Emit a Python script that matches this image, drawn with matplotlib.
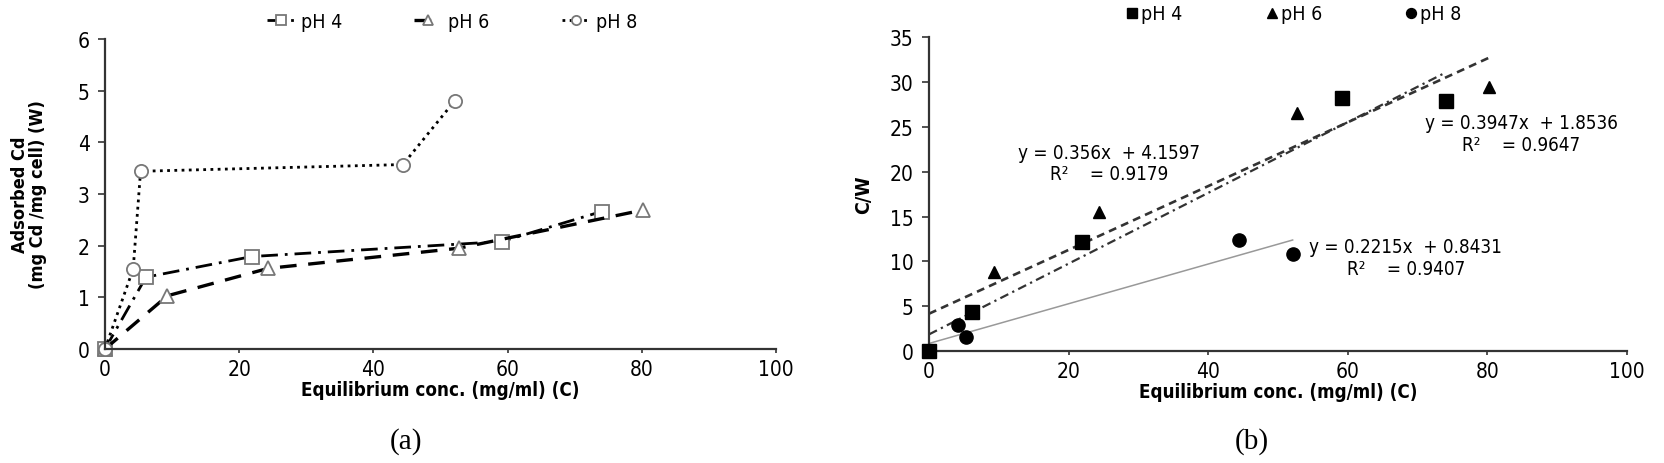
import numpy as np
import matplotlib
matplotlib.use("Agg")
import matplotlib.pyplot as plt

plt.rcParams['font.family'] = ['DejaVu Sans']
plt.rcParams['font.stretch'] = 'condensed'
plt.rcParams['mathtext.default'] = 'regular'

# ---------------- data ----------------
series_names = ["pH 4", "pH 6", "pH 8"]

# (a) adsorption isotherm: equilibrium conc. (C) vs adsorbed Cd (W)
ph4_C = [0, 6.1, 21.9, 59.1, 74.0]
ph4_W = [0, 1.39, 1.79, 2.08, 2.66]
ph6_C = [0, 9.3, 24.3, 52.7, 80.2]
ph6_W = [0, 1.03, 1.56, 1.95, 2.69]
ph8_C = [0, 4.2, 5.3, 44.4, 52.1]
ph8_W = [0, 1.55, 3.44, 3.57, 4.80]

# (b) Langmuir linearisation: C vs C/W
ph4_CW = [0, 4.3, 12.2, 28.2, 27.9]
ph6_CW = [0, 8.8, 15.5, 26.5, 29.4]
ph8_CW = [0, 2.9, 1.6, 12.4, 10.8]

# trend-line coefficients (slope, intercept, R2, x-range end)
fit_slope = [0.3947, 0.356, 0.2215]
fit_intercept = [1.8536, 4.1597, 0.8431]
fit_r2 = [0.9647, 0.9179, 0.9407]
fit_xmax = [74.0, 80.2, 52.1]

xticks = [0, 20, 40, 60, 80, 100]
yticks_a = [0, 1, 2, 3, 4, 5, 6]
yticks_b = [0, 5, 10, 15, 20, 25, 30, 35]

# ---------------- figure ----------------
W, H = 1665, 464
fig = plt.figure(figsize=(W / 100, H / 100), dpi=100)
fig.patch.set_facecolor('white')

def px_axes(x0, x1, y_top, y_bot):
    return fig.add_axes([x0 / W, 1 - y_bot / H, (x1 - x0) / W, (y_bot - y_top) / H])

axa = px_axes(105, 776, 40, 350)
axb = px_axes(929, 1627, 38.3, 352)

spine_col = '#333333'
for ax in (axa, axb):
    for s in ('top', 'right'):
        ax.spines[s].set_visible(False)
    for s in ('left', 'bottom'):
        ax.spines[s].set_color(spine_col)
        ax.spines[s].set_linewidth(1.6)
    ax.tick_params(axis='y', direction='out', length=5, width=1.2, color=spine_col,
                   labelsize=15, pad=6)
    ax.tick_params(axis='x', direction='out', length=3, width=1.2, color=spine_col,
                   labelsize=15, pad=4)
    ax.set_xlim(0, 100)
    ax.set_xticks(xticks)
    ax.set_xlabel("Equilibrium conc. (mg/ml) (C)", fontsize=13.5, fontweight='bold', labelpad=1)

# ---------- (a) ----------
axa.set_ylim(0, 6)
axa.set_yticks(yticks_a)
mk_kw = dict(markerfacecolor='white', markeredgecolor='#777777', markeredgewidth=1.3,
             markersize=9.5, color='black', clip_on=False)
l4, = axa.plot(ph4_C, ph4_W, marker='s', linestyle=(0, (6, 2.5, 1, 2.5)), lw=2.0, **mk_kw)
l6, = axa.plot(ph6_C, ph6_W, marker='^', linestyle=(0, (5, 3.5)), lw=2.4, **mk_kw)
l8, = axa.plot(ph8_C, ph8_W, marker='o', linestyle=(0, (1, 1.6)), lw=2.0, **mk_kw)
axa.set_ylabel("Adsorbed Cd\n(mg Cd /mg cell) (W)", fontsize=13, fontweight='bold',
               linespacing=1.0, va='center')
axa.yaxis.set_label_coords(-0.113, 0.5)
axa.legend([l4, l6, l8], series_names, ncol=3, frameon=False, loc='center',
           bbox_to_anchor=(452 / W, 1 - 22 / H), bbox_transform=fig.transFigure,
           fontsize=14, handlelength=1.45, handletextpad=0.3, columnspacing=3.7,
           markerscale=0.7)

# ---------- (b) ----------
axb.set_ylim(0, 35)
axb.set_yticks(yticks_b)
markers_b = ['s', '^', 'o']
sizes_b = [10, 9, 9.5]
ys_b = [ph4_CW, ph6_CW, ph8_CW]
xs_b = [ph4_C, ph6_C, ph8_C]
handles_b = []
for xs, ys, m, ms in zip(xs_b, ys_b, markers_b, sizes_b):
    h, = axb.plot(xs, ys, linestyle='none', marker=m, markersize=ms, color='black',
                  clip_on=False, zorder=3)
    handles_b.append(h)

fit_styles = [dict(color='#333333', lw=1.6, linestyle=(0, (4, 2, 1, 2))),
              dict(color='#333333', lw=1.9, linestyle=(0, (3, 2))),
              dict(color='#999999', lw=1.1, linestyle='-')]
for a, b, xm, st in zip(fit_slope, fit_intercept, fit_xmax, fit_styles):
    xx = np.array([0.0, xm])
    axb.plot(xx, a * xx + b, zorder=2, **st)

axb.set_ylabel("C/W", fontsize=14, fontweight='bold')
axb.yaxis.set_label_coords(-0.080, 0.5)

eq_pos = [(84.9, 25.5, 23.0), (25.8, 22.2, 19.8), (68.3, 11.7, 9.2)]
for a, b, r2, (ex, ey1, ey2) in zip(fit_slope, fit_intercept, fit_r2, eq_pos):
    axb.text(ex, ey1, f"y = {a:g}x  + {b:g}", fontsize=13.5, ha='center', va='center')
    axb.text(ex, ey2, f"R²    = {r2:g}", fontsize=13.5, ha='center', va='center')

axb.legend(handles_b, series_names, ncol=3, frameon=False, loc='center',
           bbox_to_anchor=(1294 / W, 1 - 15 / H), bbox_transform=fig.transFigure,
           fontsize=14, handlelength=0.6, handletextpad=0.15, columnspacing=4.3,
           markerscale=0.75)

# ---------- panel captions ----------
fig.text(406 / W, 1 - 442 / H, "(a)", fontsize=21, ha='center', va='center',
         family=['Liberation Serif', 'DejaVu Serif'], fontstretch='normal')
fig.text(1252 / W, 1 - 442 / H, "(b)", fontsize=21, ha='center', va='center',
         family=['Liberation Serif', 'DejaVu Serif'], fontstretch='normal')

fig.savefig("out.png", dpi=100, facecolor='white')
